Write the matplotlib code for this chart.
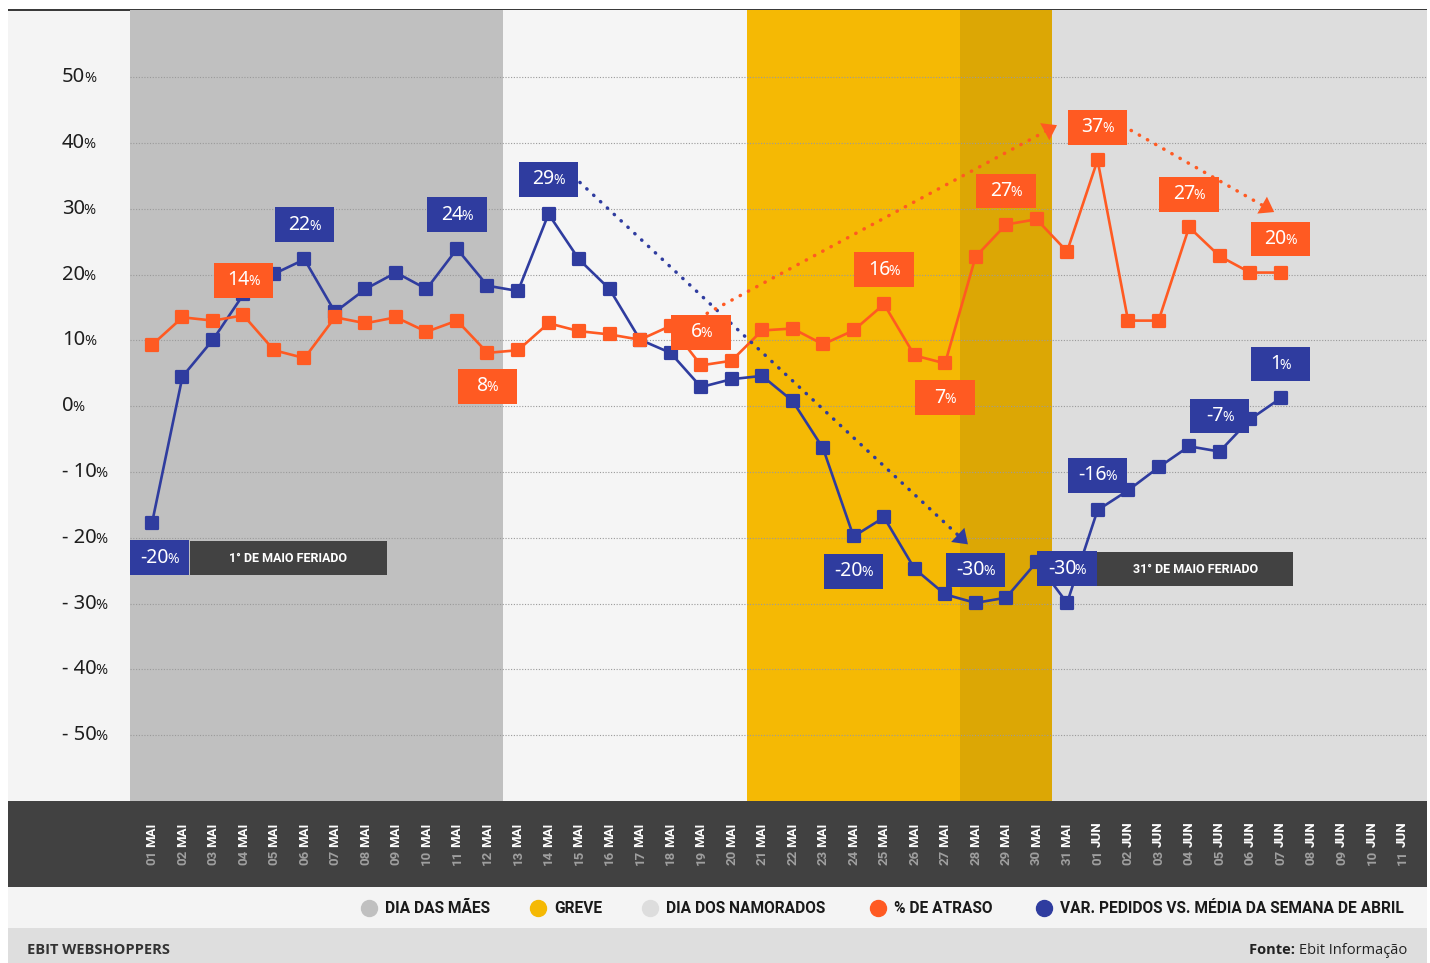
import matplotlib.pyplot as plt
import matplotlib.transforms as mtransforms
from matplotlib.patches import Rectangle
from matplotlib.lines import Line2D
from matplotlib.markers import MarkerStyle
from matplotlib.offsetbox import TextArea, HPacker, AnnotationBbox

plt.rcParams['font.family'] = ['Noto Sans', 'DejaVu Sans']
NEGRITO = ['Roboto', 'Open Sans', 'DejaVu Sans']

# dados
dias = ['01', '02', '03', '04', '05', '06', '07', '08', '09', '10', '11', '12', '13', '14',
        '15', '16', '17', '18', '19', '20', '21', '22', '23', '24', '25', '26', '27', '28',
        '29', '30', '31', '01', '02', '03', '04', '05', '06', '07', '08', '09', '10', '11']
meses = ['MAI'] * 31 + ['JUN'] * 11

atraso = [9.3, 13.5, 13.0, 13.8, 8.5, 7.3, 13.5, 12.6, 13.5, 11.3, 13.0, 8.1, 8.5, 12.6,
          11.4, 10.9, 10.1, 12.2, 6.2, 6.9, 11.5, 11.8, 9.4, 11.5, 15.5, 7.7, 6.5, 22.7,
          27.6, 28.4, 23.5, 37.4, 13.0, 13.0, 27.2, 22.8, 20.3, 20.3]
pedidos = [-17.8, 4.5, 10.1, 17.0, 20.1, 22.3, 14.3, 17.8, 20.3, 17.8, 23.9, 18.3, 17.5, 29.2,
           22.3, 17.8, 10.1, 8.1, 2.9, 4.1, 4.6, 0.8, -6.4, -19.8, -16.9, -24.7, -28.6, -29.9,
           -29.1, -23.7, -29.9, -15.8, -12.8, -9.3, -6.1, -6.9, -2.0, 1.2]

y_ticks = [50, 40, 30, 20, 10, 0, -10, -20, -30, -40, -50]
y_textos = ['50', '40', '30', '20', '10', '0', '- 10', '- 20', '- 30', '- 40', '- 50']

# rótulos: (índice do dia, texto, deslocamento em y, deslocamento em x)
rotulos_pedidos = [(0, '-20', -5.2, 0.26), (5, '22', 5.3, 0), (10, '24', 5.2, 0), (13, '29', 5.3, 0),
                   (23, '-20', -5.3, 0), (27, '-30', 5.0, 0), (30, '-30', 5.2, 0), (31, '-16', 5.3, 0),
                   (35, '-7', 5.4, 0), (37, '1', 5.2, 0)]
rotulos_atraso = [(3, '14', 5.3, 0), (11, '8', -5.1, 0), (18, '6', 5.0, 0), (24, '16', 5.2, 0),
                  (26, '7', -5.2, 0), (28, '27', 5.1, 0), (31, '37', 5.0, 0), (34, '27', 5.0, 0),
                  (37, '20', 5.1, 0)]

legenda = ['DIA DAS MÃES', 'GREVE', 'DIA DOS NAMORADOS', '% DE ATRASO',
           'VAR. PEDIDOS VS. MÉDIA DA SEMANA DE ABRIL']

AZUL = '#2f3c9f'
LARANJA = '#ff5a22'
CINZA = '#c0c0c0'
AMARELO = '#f5b904'
AMARELO_ESC = '#dca705'
CINZA_CLARO = '#dddddd'
ESCURO = '#414141'
cores_legenda = [CINZA, AMARELO, CINZA_CLARO, LARANJA, AZUL]

W, H = 1430, 963
fig = plt.figure(figsize=(W / 100, H / 100), dpi=100)
fig.patch.set_facecolor('white')


def faixa(x0, y0, x1, y1, cor):
    # retângulo em pixels (origem no canto superior esquerdo)
    fig.add_artist(Rectangle((x0 / W, 1 - y1 / H), (x1 - x0) / W, (y1 - y0) / H,
                             transform=fig.transFigure, facecolor=cor, lw=0, zorder=-1))


faixa(8, 10, 130, 801, '#f4f4f4')
faixa(8, 801, 1427, 887, ESCURO)
faixa(8, 887, 1427, 928, '#f4f4f4')
faixa(8, 928, 1427, 963, '#dedede')
faixa(8, 9, 1427, 11, '#3a3a3a')

ax = fig.add_axes([130 / W, 1 - 801 / H, (1427 - 130) / W, 791 / H])
ax.set_xlim(-0.72, 41.8)
ax.set_ylim(-60, 60.2)
ax.set_facecolor('none')
ax.set_xticks([])
ax.set_yticks([])
for s in ax.spines.values():
    s.set_visible(False)

ax.axvspan(-0.72, 11.5, color=CINZA, lw=0, zorder=0)
ax.axvspan(11.5, 19.5, color='#f5f5f5', lw=0, zorder=0)
ax.axvspan(19.5, 26.5, color=AMARELO, lw=0, zorder=0)
ax.axvspan(26.5, 29.5, color=AMARELO_ESC, lw=0, zorder=0)
ax.axvspan(29.5, 41.8, color=CINZA_CLARO, lw=0, zorder=0)

for v in y_ticks:
    ax.axhline(v, color='#9a9a9a', lw=0.8, ls=(0, (1, 1.5)), zorder=1)

x = list(range(len(atraso)))
quadrado = MarkerStyle('s', joinstyle='round')
ax.plot(x, pedidos, color=AZUL, lw=1.9, marker=quadrado, ms=8, mew=1.6, zorder=3)
ax.plot(x, atraso, color=LARANJA, lw=1.9, marker=quadrado, ms=8, mew=1.6, zorder=4)


def num_pct(num, cor, tam, xy, coords, alinh, onde):
    partes = [TextArea(num, textprops=dict(color=cor, size=tam)),
              TextArea('%', textprops=dict(color=cor, size=tam * 0.72))]
    pacote = HPacker(children=partes, align='baseline', pad=0, sep=-1)
    ab = AnnotationBbox(pacote, xy, xycoords=coords, frameon=False, box_alignment=alinh,
                        pad=0, zorder=8, annotation_clip=False)
    onde.add_artist(ab)


# eixo y
trans_y = mtransforms.blended_transform_factory(fig.transFigure, ax.transData)
for v, t in zip(y_ticks, y_textos):
    num_pct(t, '#1e1e1e', 14.5, (62 / W, v), trans_y, (0, 0.5), fig)

# eixo x
trans_x = mtransforms.blended_transform_factory(ax.transData, fig.transFigure)
for i, (d, m) in enumerate(zip(dias, meses)):
    ax.text(i, 1 - 865 / H, d, rotation=90, ha='center', va='bottom', color='#a0a0a0',
            fontsize=9.5, fontweight='bold', family=NEGRITO, transform=trans_x, clip_on=False)
    ax.text(i, 1 - 847 / H, m, rotation=90, ha='center', va='bottom', color='white',
            fontsize=9.5, fontweight='bold', family=NEGRITO, transform=trans_x, clip_on=False)


def caixa(xc, yc, texto, cor):
    larg, alt = 1.94, 5.3
    ax.add_patch(Rectangle((xc - larg / 2, yc - alt / 2), larg, alt, facecolor=cor, lw=0, zorder=7))
    num_pct(texto, 'white', 14, (xc, yc), 'data', (0.5, 0.5), ax)


for i, t, dy, dx in rotulos_pedidos:
    caixa(i + dx, pedidos[i] + dy, t, AZUL)
for i, t, dy, dx in rotulos_atraso:
    caixa(i + dx, atraso[i] + dy, t, LARANJA)

# feriados
ax.add_patch(Rectangle((1.25, -25.7), 6.45, 5.2, facecolor='#424242', lw=0, zorder=7))
ax.text(4.47, -23.1, '1° DE MAIO FERIADO', color='white', fontsize=9, fontweight='bold',
        family=NEGRITO, ha='center', va='center', zorder=8)
ax.add_patch(Rectangle((30.97, -27.4), 6.45, 5.3, facecolor='#424242', lw=0, zorder=7))
ax.text(34.2, -24.75, '31° DE MAIO FERIADO', color='white', fontsize=9, fontweight='bold',
        family=NEGRITO, ha='center', va='center', zorder=8)


def seta(p0, p1, cor):
    ax.plot([p0[0], p1[0]], [p0[1], p1[1]], color=cor, lw=2.5, dashes=(0.1, 2.6),
            dash_capstyle='round', zorder=5)
    tras = (p1[0] - 0.15 * (p1[0] - p0[0]), p1[1] - 0.15 * (p1[1] - p0[1]))
    ax.annotate('', xy=p1, xytext=tras, zorder=6,
                arrowprops=dict(arrowstyle='-|>,head_length=0.5,head_width=0.35',
                                mutation_scale=20, color=cor, lw=0, shrinkA=0, shrinkB=0))


seta((14.03, 34.0), (26.75, -21.0), AZUL)
seta((18.2, 14.1), (29.67, 42.7), LARANJA)
seta((32.1, 41.9), (36.79, 29.5), LARANJA)

# legenda
pos_legenda = [369, 538, 650, 878, 1044]
for xc, txt, cor in zip(pos_legenda, legenda, cores_legenda):
    fig.add_artist(Line2D([xc / W], [1 - 908 / H], marker='o', ms=11.5, color=cor,
                          transform=fig.transFigure))
    fig.text((xc + 16) / W, 1 - 908 / H, txt, fontsize=11.2, fontweight='bold', color='#1a1a1a',
             family=NEGRITO, va='center', ha='left')

# rodapé
fig.text(27 / W, 1 - 950 / H, 'EBIT WEBSHOPPERS', fontsize=10.5, fontweight='bold',
         color='#333333', va='center', ha='left', family='Open Sans')
fonte = HPacker(children=[TextArea('Fonte: ', textprops=dict(size=10.5, weight='bold', family='Open Sans',
                                                             color='#222222')),
                          TextArea('Ebit Informação', textprops=dict(size=10.5, family='Open Sans',
                                                                     color='#222222'))],
                align='baseline', pad=0, sep=0)
fig.add_artist(AnnotationBbox(fonte, (1407 / W, 1 - 950 / H), xycoords='figure fraction',
                              frameon=False, box_alignment=(1, 0.5), pad=0))

fig.savefig('out.png', dpi=100)
